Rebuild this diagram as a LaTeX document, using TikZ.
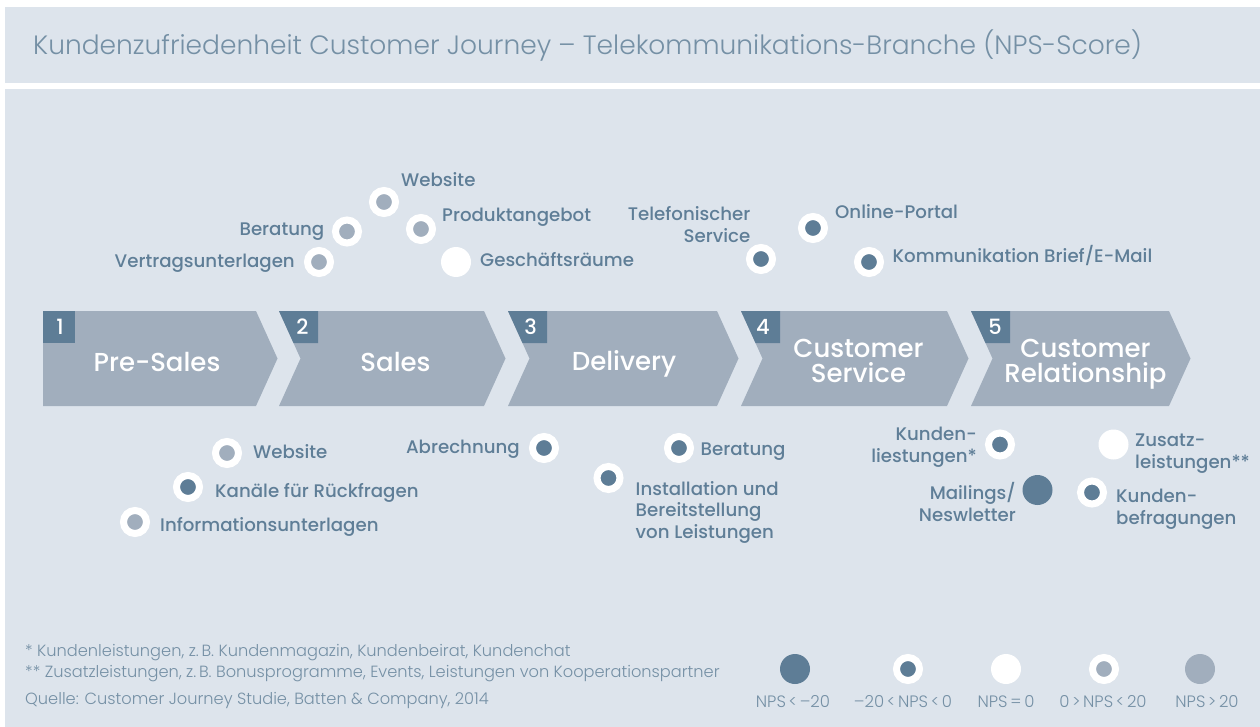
\documentclass[tikz,border=0pt]{standalone}
\usepackage{fontspec}
\IfFontExistsTF{Poppins Light}{\newfontfamily\lightfont{Poppins Light}}{\newfontfamily\lightfont{Poppins}}
\IfFontExistsTF{Poppins Medium}{\newfontfamily\mediumfont{Poppins Medium}}{\newfontfamily\mediumfont{Poppins}}
\definecolor{panel}{HTML}{DDE4EC}
\definecolor{phasegray}{HTML}{A1AEBD}
\definecolor{npsdark}{HTML}{5E7D96}
\definecolor{labeltext}{HTML}{5F7E97}
\definecolor{softtext}{HTML}{7590A5}

\begin{document}
\begin{tikzpicture}[x=1pt,y=-1pt,every node/.style={inner sep=0pt},
  lbl/.style={font=\mediumfont\fontsize{18.2}{21.5}\selectfont,text=labeltext},
  phasetxt/.style={font=\mediumfont\fontsize{26}{25}\selectfont,text=white,align=center},
  phasenum/.style={font=\mediumfont\fontsize{21}{21}\selectfont,text=white},
  note/.style={font=\lightfont\fontsize{16.2}{16}\selectfont,text=softtext,anchor=base west},
  key/.style={font=\lightfont\fontsize{16.5}{16}\selectfont,text=softtext,anchor=base},
  npsvlow/.style={circle,fill=npsdark,minimum size=30pt},
  npslow/.style={circle,draw=white,line width=7pt,fill=npsdark,minimum size=23pt},
  npszero/.style={circle,fill=white,minimum size=30pt},
  npshigh/.style={circle,draw=white,line width=7pt,fill=phasegray,minimum size=23pt},
  npsvhigh/.style={circle,fill=phasegray,minimum size=30pt}]
\fill[white] (0,0) rectangle (1260,727);
\fill[panel] (4.5,7) rectangle (1260,83);
\fill[panel] (4.5,89) rectangle (1260,727);
\useasboundingbox (0,0) rectangle (1260,727);
\node[font=\lightfont\fontsize{26.5}{26}\selectfont,text=softtext,anchor=base west] (title) at (33,55) {Kundenzufriedenheit Customer Journey – Telekommunikations-Branche (NPS-Score)};

% phases of the journey
\fill[phasegray] (43,311) -- (256,311) -- (277.5,358.5) -- (256,406) -- (43,406) -- cycle;
\fill[npsdark] (43,311) rectangle (75,343);
\node[phasenum] (num1) at (60,327) {1};
\node[phasetxt] (phase1) at (157,362) {Pre-Sales};
\fill[phasegray] (279,311) -- (484,311) -- (505.5,358.5) -- (484,406) -- (279,406) -- (300.5,358.5) -- cycle;
\fill[npsdark] (279,311) -- (318,311) -- (318,343) -- (293.5,343) -- cycle;
\node[phasenum] (num2) at (302.5,327) {2};
\node[phasetxt] (phase2) at (395.5,362) {Sales};
\fill[phasegray] (508,311) -- (717,311) -- (738.5,358.5) -- (717,406) -- (508,406) -- (529.5,358.5) -- cycle;
\fill[npsdark] (508,311) -- (547,311) -- (547,343) -- (522.5,343) -- cycle;
\node[phasenum] (num3) at (530.5,327) {3};
\node[phasetxt] (phase3) at (624,364) {Delivery};
\fill[phasegray] (741,311) -- (947,311) -- (968.5,358.5) -- (947,406) -- (741,406) -- (762.5,358.5) -- cycle;
\fill[npsdark] (741,311) -- (780,311) -- (780,343) -- (755.5,343) -- cycle;
\node[phasenum] (num4) at (763,327) {4};
\node[phasetxt] (phase4) at (858.5,361) {Customer\\Service};
\fill[phasegray] (971,311) -- (1169,311) -- (1190.5,358.5) -- (1169,406) -- (971,406) -- (992.5,358.5) -- cycle;
\fill[npsdark] (971,311) -- (1010,311) -- (1010,343) -- (985.5,343) -- cycle;
\node[phasenum] (num5) at (995,327) {5};
\node[phasetxt] (phase5) at (1085.5,364) {Customer\\Relationship};

% touchpoints above
\node[npshigh] (web1) at (384,202) {};
\node[lbl,anchor=base west] (web1l) at (401,187) {Website};
\node[npshigh] (ber1) at (347,231.5) {};
\node[lbl,anchor=base east] (ber1l) at (324.5,236) {Beratung};
\node[npshigh] (vert) at (319,262) {};
\node[lbl,anchor=base east] (vertl) at (295,267.5) {Vertragsunterlagen};
\node[npshigh] (prod) at (421,229) {};
\node[lbl,anchor=base west] (prodl) at (442,222) {Produktangebot};
\node[npszero] (gesch) at (456,262) {};
\node[lbl,anchor=base west] (geschl) at (480,266.5) {Geschäftsräume};
\node[npslow] (tel) at (761,259) {};
\node[lbl,anchor=east,align=right] (tell) at (750.5,224.5) {Telefonischer\\Service};
\node[npslow] (portal) at (813,228) {};
\node[lbl,anchor=base west] (portall) at (835,218.5) {Online-Portal};
\node[npslow] (brief) at (869,262) {};
\node[lbl,anchor=base west] (briefl) at (892.5,262.5) {Kommunikation Brief/E-Mail};

% touchpoints below
\node[npshigh] (web2) at (227,453) {};
\node[lbl,anchor=base west] (web2l) at (253,458.5) {Website};
\node[npslow] (kanal) at (188,487) {};
\node[lbl,anchor=base west] (kanall) at (215,497) {Kanäle für Rückfragen};
\node[npshigh] (info) at (135,522) {};
\node[lbl,anchor=base west] (infol) at (160,531) {Informationsunterlagen};
\node[npslow] (abr) at (544,448) {};
\node[lbl,anchor=base east] (abrl) at (520,453.5) {Abrechnung};
\node[npslow] (ber2) at (679,448) {};
\node[lbl,anchor=base west] (ber2l) at (700.5,455) {Beratung};
\node[npslow] (inst) at (608.5,478) {};
\node[lbl,anchor=west,align=left] (instl) at (635.5,512) {Installation und\\Bereitstellung\\von Leistungen};
\node[npslow] (kleist) at (1000,444.5) {};
\node[lbl,anchor=east,align=right] (kleistl) at (977,447) {Kunden-\\liestungen*};
\node[npsvlow] (mail) at (1037.5,490) {};
\node[lbl,anchor=east,align=right] (maill) at (1016,502) {Mailings/\\Neswletter};
\node[npszero] (zusatz) at (1113.5,444.5) {};
\node[lbl,anchor=west,align=left] (zusatzl) at (1135,453.5) {Zusatz-\\leistungen**};
\node[npslow] (befr) at (1092,492.5) {};
\node[lbl,anchor=west,align=left] (befrl) at (1116,509) {Kunden-\\befragungen};

% footnotes and source
\node[note] (fn1) at (25,656) {* Kundenleistungen, z.\,B. Kundenmagazin, Kundenbeirat, Kundenchat};
\node[note] (fn2) at (25,677) {** Zusatzleistungen, z.\,B. Bonusprogramme, Events, Leistungen von Kooperationspartner};
\node[note] (src) at (25,704) {Quelle: Customer Journey Studie, Batten \& Company, 2014};

% legend
\node[npsvlow] (key1) at (795,669) {};
\node[npslow] (key2) at (908,669) {};
\node[npszero] (key3) at (1006,669) {};
\node[npshigh] (key4) at (1104,669) {};
\node[npsvhigh] (key5) at (1200,669) {};
\node[key] (key1l) at (793,707) {NPS\,<\,–20};
\node[key] (key2l) at (903,707) {–20\,<\,NPS\,<\,0};
\node[key] (key3l) at (1006,707) {NPS\,=\,0};
\node[key] (key4l) at (1103,707) {0\,>\,NPS\,<\,20};
\node[key] (key5l) at (1207,707) {NPS\,>\,20};
\end{tikzpicture}
\end{document}
